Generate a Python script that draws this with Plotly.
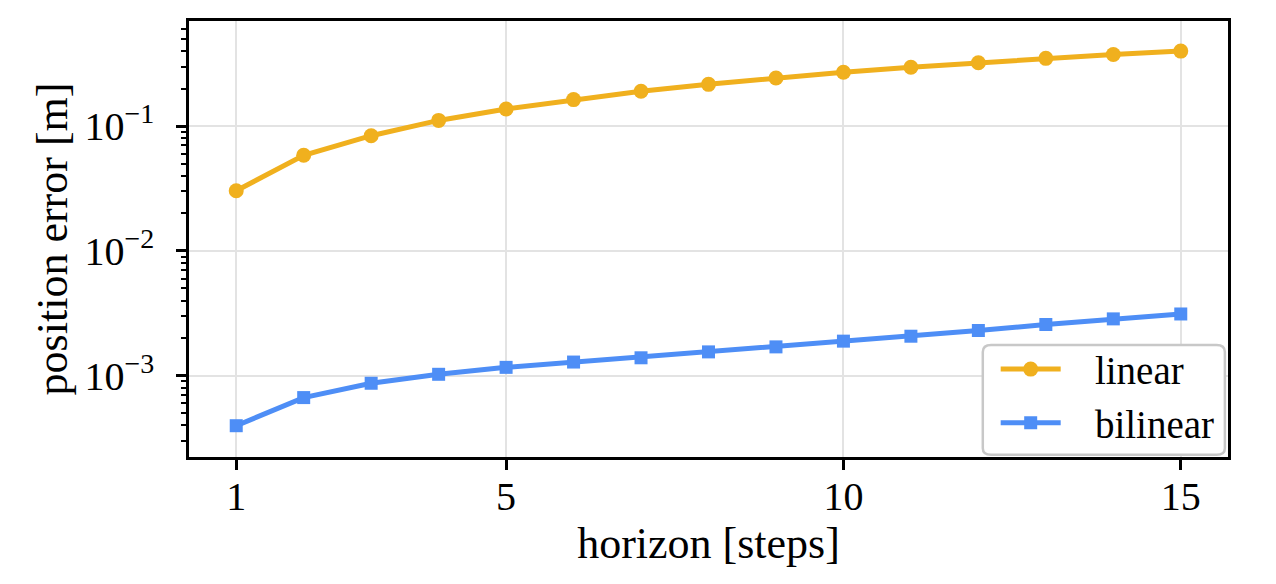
import plotly.graph_objects as go

# horizon steps and position errors
steps = list(range(1, 16))
err_linear = [0.0303, 0.0583, 0.0837, 0.111, 0.137, 0.163, 0.190, 0.216,
              0.243, 0.270, 0.296, 0.322, 0.349, 0.375, 0.399]
err_bilinear = [0.000397, 0.000667, 0.000869, 0.001025, 0.001165, 0.001285, 0.00139, 0.00155,
                0.00170, 0.00189, 0.00207, 0.00230, 0.00257, 0.00285, 0.00312]

x_ticks = [1, 5, 10, 15]
y_ticks = [1e-3, 1e-2, 1e-1]
y_ticktext = ['10<sup>−3</sup>', '10<sup>−2</sup>', '10<sup>−1</sup>']

FONT = 'Liberation Serif'
ORANGE = '#f0b01e'
BLUE = '#4e8ef6'
GAP = '\u00a0\u00a0\u00a0'  # space between legend line sample and label

fig = go.Figure()

fig.add_trace(go.Scatter(
    x=steps, y=err_linear, name=GAP + 'linear',
    mode='lines+markers',
    line=dict(color=ORANGE, width=5),
    marker=dict(symbol='circle', size=15, color=ORANGE)
))
fig.add_trace(go.Scatter(
    x=steps, y=err_bilinear, name=GAP + 'bilinear',
    mode='lines+markers',
    line=dict(color=BLUE, width=5),
    marker=dict(symbol='square', size=13, color=BLUE)
))

# rounded legend frame (plotly legends have square corners)
fig.add_shape(
    type='path', xref='paper', yref='paper', layer='above',
    path='M 0.772 0.005 L 0.989 0.005 Q 0.997 0.005 0.997 0.020 L 0.997 0.241 '
         'Q 0.997 0.257 0.989 0.257 L 0.772 0.257 Q 0.764 0.257 0.764 0.241 '
         'L 0.764 0.020 Q 0.764 0.005 0.772 0.005 Z',
    fillcolor='white', line=dict(color='#c8c8c8', width=2.5)
)

fig.update_layout(
    width=1276, height=584,
    margin=dict(l=181, r=56, t=10, b=135),
    paper_bgcolor='white',
    plot_bgcolor='white',
    font=dict(family=FONT, size=40, color='black'),
    showlegend=True,
    legend=dict(
        x=0.992, xanchor='right',
        y=0.004, yanchor='bottom',
        bgcolor='rgba(0,0,0,0)',
        borderwidth=0,
        font=dict(family=FONT, size=39),
        itemwidth=60,
        tracegroupgap=0
    )
)

fig.update_xaxes(
    range=[0.3, 15.7],
    tickvals=x_ticks,
    ticks='outside', ticklen=10, tickwidth=2.5, tickcolor='black',
    ticklabelstandoff=-8,
    showline=True, linewidth=2.5, linecolor='black', mirror=True,
    showgrid=True, gridcolor='#e3e3e3', gridwidth=1.5,
    zeroline=False,
    title=dict(text='horizon [steps]', font=dict(size=44), standoff=4)
)

fig.update_yaxes(
    type='log',
    range=[-3.652, -0.158],
    tickvals=y_ticks, ticktext=y_ticktext,
    ticks='outside', ticklen=10, tickwidth=2.5, tickcolor='black',
    ticklabelstandoff=14,
    minor=dict(ticks='outside', ticklen=5, tickwidth=1.8, tickcolor='black',
               dtick='D1', showgrid=False),
    showline=True, linewidth=2.5, linecolor='black', mirror=True,
    showgrid=True, gridcolor='#e3e3e3', gridwidth=1.5,
    zeroline=False,
    title=dict(text='position error [m]', font=dict(size=44), standoff=4)
)

fig.write_html("out.html")
